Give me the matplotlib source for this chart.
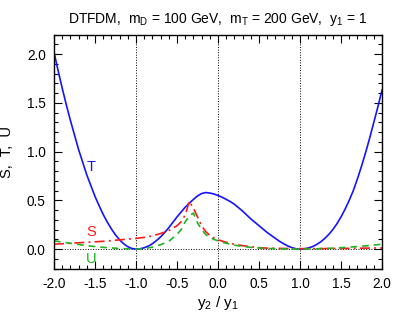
import numpy as np
import matplotlib.pyplot as plt
from matplotlib.ticker import MultipleLocator

plt.rcParams['font.family'] = ['Liberation Sans', 'DejaVu Sans']
plt.rcParams['mathtext.fontset'] = 'custom'
plt.rcParams['mathtext.rm'] = 'Liberation Sans'
plt.rcParams['mathtext.it'] = 'Liberation Sans'

# T (blue, solid)
t_x = [-2.0, -1.95, -1.9, -1.85, -1.8, -1.75, -1.7, -1.65, -1.6, -1.55,
       -1.5, -1.45, -1.4, -1.35, -1.3, -1.25, -1.2, -1.15, -1.1, -1.05,
       -1.0, -0.95, -0.9, -0.85, -0.8, -0.75, -0.7, -0.65, -0.6, -0.55,
       -0.5, -0.45, -0.4, -0.35, -0.3, -0.25, -0.2, -0.15, -0.1, -0.05,
       0.0, 0.05, 0.1, 0.15, 0.2, 0.25, 0.3, 0.35, 0.4, 0.45,
       0.5, 0.55, 0.6, 0.65, 0.7, 0.75, 0.8, 0.85, 0.9, 0.95,
       1.0, 1.05, 1.1, 1.15, 1.2, 1.25, 1.3, 1.35, 1.4, 1.45,
       1.5, 1.55, 1.6, 1.65, 1.7, 1.75, 1.8, 1.85, 1.9, 1.95, 2.0]
t_y = [2.02, 1.83, 1.65, 1.48, 1.32, 1.17, 1.02, 0.89, 0.76, 0.65,
       0.54, 0.445, 0.355, 0.277, 0.207, 0.146, 0.095, 0.054, 0.025, 0.006,
       0.0, 0.0035, 0.014, 0.031, 0.055, 0.088, 0.125, 0.17, 0.22, 0.275,
       0.33, 0.38, 0.43, 0.47, 0.51, 0.545, 0.57, 0.58, 0.575, 0.565,
       0.55, 0.532, 0.51, 0.487, 0.46, 0.425, 0.39, 0.35, 0.31, 0.275,
       0.24, 0.205, 0.17, 0.14, 0.11, 0.08, 0.055, 0.033, 0.015, 0.004,
       0.0, 0.003, 0.011, 0.025, 0.046, 0.073, 0.108, 0.15, 0.20, 0.26,
       0.33, 0.41, 0.50, 0.60, 0.72, 0.85, 0.99, 1.14, 1.30, 1.46, 1.63]

# S (red, dash-dot)
s_x = [-2.0, -1.8, -1.6, -1.4, -1.2, -1.0, -0.9, -0.8, -0.7, -0.6, -0.5,
       -0.45, -0.4, -0.35, -0.3, -0.25, -0.2, -0.15, -0.1, -0.05, 0.0,
       0.1, 0.2, 0.3, 0.4, 0.5, 0.6, 0.8, 1.0, 1.2, 1.4, 1.6, 1.8, 2.0]
s_y = [0.05, 0.06, 0.07, 0.08, 0.095, 0.11, 0.12, 0.135, 0.16, 0.19, 0.24,
       0.28, 0.35, 0.49, 0.42, 0.33, 0.24, 0.18, 0.14, 0.115, 0.095,
       0.07, 0.05, 0.035, 0.025, 0.015, 0.01, 0.007, 0.005, 0.005, 0.006,
       0.008, 0.01, 0.012]

# U (green, dashed)
u_x = [-2.0, -1.8, -1.6, -1.4, -1.2, -1.0, -0.9, -0.8, -0.7, -0.6, -0.5,
       -0.45, -0.4, -0.35, -0.3, -0.25, -0.2, -0.15, -0.1, -0.05, 0.0,
       0.1, 0.2, 0.3, 0.4, 0.5, 0.6, 0.8, 1.0, 1.2, 1.4, 1.6, 1.8, 2.0]
u_y = [0.085, 0.06, 0.035, 0.018, 0.006, 0.0, 0.005, 0.02, 0.045, 0.08, 0.15,
       0.2, 0.28, 0.34, 0.37, 0.27, 0.2, 0.15, 0.12, 0.10, 0.085,
       0.06, 0.04, 0.028, 0.018, 0.012, 0.007, 0.002, 0.0, 0.003, 0.01,
       0.02, 0.033, 0.05]

fig = plt.figure(figsize=(4.07, 3.26), dpi=100)
ax = fig.add_axes([0.1327, 0.176, 0.8059, 0.718])

# reference lines
for xv in [-1.0, 0.0, 1.0]:
    ax.axvline(xv, color='black', ls=':', lw=0.7)
ax.axhline(0.0, color='black', ls=':', lw=0.7)

ax.plot(t_x, t_y, color='#1414ff', lw=1.2)
ax.plot(s_x, s_y, color='#ff1a1a', lw=1.2, ls=(0, (6, 2.5, 1.2, 2.5)))
ax.plot(u_x, u_y, color='#1fb51f', lw=1.2, ls=(0, (4, 3)))

ax.text(-1.55, 0.84, 'T', color='#1414ff', fontsize=10.5, ha='center', va='center')
ax.text(-1.55, 0.18, 'S', color='#ff1a1a', fontsize=10.5, ha='center', va='center')
ax.text(-1.55, -0.10, 'U', color='#1fb51f', fontsize=10.5, ha='center', va='center')

ax.set_xlim(-2.0, 2.0)
ax.set_ylim(-0.2, 2.2)
ax.xaxis.set_major_locator(MultipleLocator(0.5))
ax.xaxis.set_minor_locator(MultipleLocator(0.1))
ax.yaxis.set_minor_locator(MultipleLocator(0.1))
ax.set_yticks([0.0, 0.5, 1.0, 1.5, 2.0])
ax.xaxis.set_major_formatter(plt.FormatStrFormatter('%.1f'))
ax.yaxis.set_major_formatter(plt.FormatStrFormatter('%.1f'))
ax.tick_params(which='both', direction='in', top=True, right=True, labelsize=9.8, width=0.8)
ax.tick_params(which='major', length=6, pad=6)
ax.tick_params(which='minor', length=3)
for sp in ax.spines.values():
    sp.set_linewidth(1.0)

ax.set_xlabel('y$_2$ / y$_1$', fontsize=11, labelpad=2)
ax.set_ylabel('S,  T,  U', fontsize=10.5, labelpad=9)
ax.set_title('DTFDM,  m$_D$ = 100 GeV,  m$_T$ = 200 GeV,  y$_1$ = 1',
             fontsize=10, pad=8)

fig.savefig('out.png', dpi=100)
